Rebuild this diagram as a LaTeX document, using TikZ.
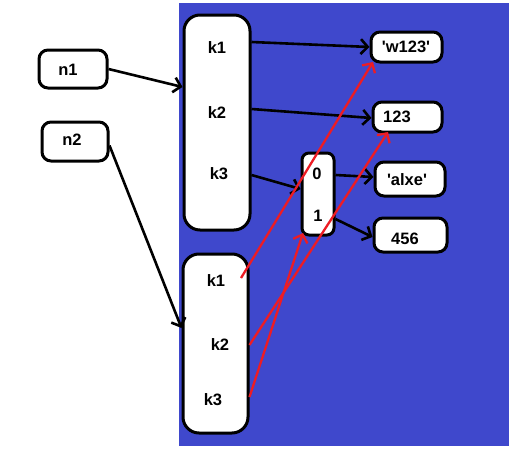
\documentclass[tikz,border=0pt]{standalone}
\usepackage{fontspec}
\setmainfont{Liberation Sans}
\usetikzlibrary{arrows.meta}
\definecolor{paintblue}{RGB}{63,72,204}
\definecolor{paintred}{RGB}{237,28,36}
\tikzset{
  x=1pt, y=-1pt,
  box/.style={draw=black, line width=3pt, fill=white, rounded corners=9pt, inner sep=0pt},
  bigbox/.style={box, rounded corners=16pt},
  lbl/.style={font=\fontsize{16.5}{18}\selectfont\bfseries, inner sep=0pt},
  arr/.style={line width=2.6pt, -{Straight Barb[length=7pt,width=15pt,line width=2.6pt]}},
  redarr/.style={arr, draw=paintred, line width=2.3pt, -{Straight Barb[length=7pt,width=15pt,line width=2.3pt]}},
}
\newcommand{\sq}{\textquotesingle}
\begin{document}
\begin{tikzpicture}
\useasboundingbox (0,0) rectangle (528,453);
\fill[paintblue] (179,3) rectangle (509,446);

% left name boxes
\node[box, minimum width=68pt, minimum height=38pt] (n1) at (73,69) {};
\node[lbl] (n1t) at (68,70) {n1};
\node[box, minimum width=66pt, minimum height=39pt] (n2) at (75,141.5) {};
\node[lbl] (n2t) at (72,140) {n2};

% dict boxes
\node[bigbox, minimum width=66pt, minimum height=215pt] (d1) at (217,122.5) {};
\node[lbl] (d1k1) at (217,48) {k1};
\node[lbl] (d1k2) at (217,113) {k2};
\node[lbl] (d1k3) at (219,174) {k3};

\node[bigbox, minimum width=65pt, minimum height=179pt] (d2) at (215.5,343.5) {};
\node[lbl] (d2k1) at (216,281) {k1};
\node[lbl] (d2k2) at (220,345) {k2};
\node[lbl] (d2k3) at (213,400) {k3};

% list box
\node[box, rounded corners=7pt, minimum width=32pt, minimum height=82pt] (lst) at (318,194) {};
\node[lbl] (l0) at (317,174) {0};
\node[lbl] (l1) at (318,216) {1};

% value boxes
\node[box, minimum width=71pt, minimum height=30pt] (w) at (406.5,47) {};
\node[lbl] (wt) at (406,47) {\sq w123\sq};
\node[box, minimum width=69pt, minimum height=30pt] (v123) at (407.5,117) {};
\node[lbl] (v123t) at (397,117) {123};
\node[box, minimum width=70pt, minimum height=34pt] (al) at (410,179) {};
\node[lbl] (alt) at (407,180) {\sq alxe\sq};
\node[box, minimum width=73pt, minimum height=34pt] (v456) at (410.5,235) {};
\node[lbl] (v456t) at (405,239) {456};

% black arrows
\draw[arr] (n1.east) -- ([yshift=35.5pt]d1.west);
\draw[arr] ([yshift=-4pt]n2.east) -- ([yshift=15.5pt]d2.west);
\draw[arr] ([yshift=6pt]d1k1 -| d1.east) -- (w.west);
\draw[arr] ([yshift=4pt]d1k2 -| d1.east) -- ([yshift=-1pt]v123.west);
\draw[arr] ([yshift=-1pt]d1k3 -| d1.east) -- ([yshift=5pt]lst.west);
\draw[arr] ([yshift=-1pt]l0 -| lst.east) -- ([yshift=2pt]al.west);
\draw[arr] ([yshift=-3pt]l1 -| lst.east) -- ([yshift=-2pt]v456.west);

% red arrows
\draw[redarr] ([xshift=25pt,yshift=3pt]d2k1.center) -- ([xshift=-33.5pt,yshift=-15pt]w.center);
\draw[redarr] (d2k2 -| d2.east) -- ([xshift=-19.5pt,yshift=-15pt]v123.center);
\draw[redarr] ([yshift=3pt]d2k3 -| d2.east) -- ([xshift=-15pt,yshift=-39pt]lst.center);
\end{tikzpicture}
\end{document}
